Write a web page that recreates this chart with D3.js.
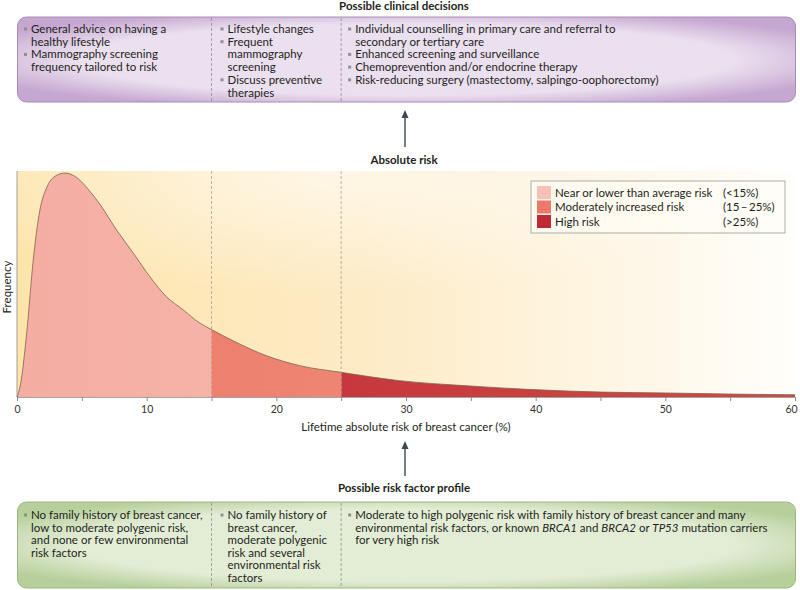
<!DOCTYPE html>
<html>
<head>
<meta charset="utf-8">
<style>
  * { margin:0; padding:0 }
  body { background:#fff; overflow:hidden; }
  svg text { font-family: Lato, "Noto Sans", sans-serif; fill:#231f20; }
</style>
<script src="https://cdn.jsdelivr.net/npm/d3@7"></script>
</head>
<body>
<script>
// curve: lifetime risk (%) vs relative frequency (peak = 100)
var riskPct   = [0, 0.25, 0.75, 1.25, 1.75, 2.3, 2.8, 3.7, 4.6, 5.6, 6.4, 7.7, 9, 10.25, 11.5, 12.8, 14.1, 15, 16.7, 19.25, 21.8, 25, 29.5, 34.7, 39.8, 45, 50, 55, 60];
var frequency = [0, 5, 28.7, 61, 83, 93.6, 98, 100, 98, 92, 86, 74.4, 64, 53.7, 44.9, 39, 33, 30.1, 25, 18.4, 14, 11, 7.3, 5, 3.3, 2.2, 1.8, 1.3, 1.0];

var bandNames  = ["Near or lower than average risk", "Moderately increased risk", "High risk"];
var bandRanges = ["(<15%)", "(15\u2009\u2013\u200925%)", "(>25%)"];
var bandStart  = [0, 15, 25];
var bandEnd    = [15, 25, 60];

var xTicks = [0, 5, 10, 15, 20, 25, 30, 35, 40, 45, 50, 55, 60];
var xLabels = [0, 10, 20, 30, 40, 50, 60];

var clinicalDecisions = [
  [["General advice on having a", "healthy lifestyle"], ["Mammography screening", "frequency tailored to risk"]],
  [["Lifestyle changes"], ["Frequent", "mammography", "screening"], ["Discuss preventive", "therapies"]],
  [["Individual counselling in primary care and referral to", "secondary or tertiary care"],
   ["Enhanced screening and surveillance"],
   ["Chemoprevention and/or endocrine therapy"],
   ["Risk-reducing surgery (mastectomy, salpingo-oophorectomy)"]]
];
var riskProfiles = [
  [["No family history of breast cancer,", "low to moderate polygenic risk,", "and none or few environmental", "risk factors"]],
  [["No family history of", "breast cancer,", "moderate polygenic", "risk and several", "environmental risk", "factors"]],
  [["Moderate to high polygenic risk with family history of breast cancer and many",
    "environmental risk factors, or known *BRCA1* and *BRCA2* or *TP53* mutation carriers",
    "for very high risk"]]
];

var width = 800, height = 590;
var plotTop = 171, plotBottom = 397;

var svg = d3.select("body").append("svg")
    .attr("width", width)
    .attr("height", height);

var x = d3.scaleLinear().domain([0, 60]).range([17, 795]);
var y = d3.scaleLinear().domain([0, 100]).range([plotBottom, 173]);

var defs = svg.append("defs");

function radial(id, inner, outer) {
  var g = defs.append("radialGradient").attr("id", id)
      .attr("cx", "50%").attr("cy", "50%").attr("r", "60%");
  g.append("stop").attr("offset", "0%").attr("stop-color", inner);
  g.append("stop").attr("offset", "70%").attr("stop-color", inner);
  g.append("stop").attr("offset", "100%").attr("stop-color", outer);
}
radial("purpleGrad", "#ebe0ef", "#c6a7d1");
radial("greenGrad", "#e3edd6", "#b7cf9b");

var bg = defs.append("linearGradient").attr("id", "bgGrad")
    .attr("x1", "0%").attr("x2", "100%").attr("y1", "0%").attr("y2", "0%");
bg.append("stop").attr("offset", "0%").attr("stop-color", "#fde4aa");
bg.append("stop").attr("offset", "45%").attr("stop-color", "#fdebc6");
bg.append("stop").attr("offset", "100%").attr("stop-color", "#fffefb");

var glow = defs.append("radialGradient").attr("id", "glow")
    .attr("cx", "40%").attr("cy", "0%").attr("r", "55%");
glow.append("stop").attr("offset", "0%").attr("stop-color", "#fff").attr("stop-opacity", 0.6);
glow.append("stop").attr("offset", "100%").attr("stop-color", "#fff").attr("stop-opacity", 0);

var bandColors = [["#f5ada2", "#f8c3ba"], ["#ec7a67", "#f09382"], ["#bf2b36", "#cf4a45"]];
bandColors.forEach(function(c, i) {
  var g = defs.append("linearGradient").attr("id", "band" + i)
      .attr("x1", "0%").attr("x2", "100%").attr("y1", "0%").attr("y2", "0%");
  g.append("stop").attr("offset", "0%").attr("stop-color", c[0]);
  g.append("stop").attr("offset", "100%").attr("stop-color", c[1]);
  defs.append("clipPath").attr("id", "clip" + i)
    .append("rect")
      .attr("x", x(bandStart[i])).attr("y", plotTop)
      .attr("width", x(bandEnd[i]) - x(bandStart[i]))
      .attr("height", plotBottom - plotTop);
});

// chart background
svg.append("rect").attr("x", x(0)).attr("y", plotTop)
    .attr("width", x(60) - x(0)).attr("height", plotBottom - plotTop)
    .attr("fill", "url(#bgGrad)");
svg.append("rect").attr("x", x(0)).attr("y", plotTop)
    .attr("width", x(60) - x(0)).attr("height", plotBottom - plotTop)
    .attr("fill", "url(#glow)");

var pts = riskPct.map(function(d, i) { return [d, frequency[i]]; });

var area = d3.area()
    .x(function(d) { return x(d[0]); })
    .y0(y(0))
    .y1(function(d) { return y(d[1]); })
    .curve(d3.curveMonotoneX);

var line = d3.line()
    .x(function(d) { return x(d[0]); })
    .y(function(d) { return y(d[1]); })
    .curve(d3.curveMonotoneX);

bandNames.forEach(function(n, i) {
  svg.append("path").datum(pts)
      .attr("d", area)
      .attr("fill", "url(#band" + i + ")")
      .attr("clip-path", "url(#clip" + i + ")");
});

svg.append("path").datum(pts)
    .attr("d", line)
    .attr("fill", "none")
    .attr("stroke", "#7d6250")
    .attr("stroke-width", 0.8);

// dashed thresholds
[15, 25].forEach(function(t) {
  svg.append("line")
      .attr("x1", x(t)).attr("x2", x(t))
      .attr("y1", plotTop).attr("y2", plotBottom)
      .attr("stroke", "#b59f94").attr("stroke-width", 0.8)
      .attr("stroke-dasharray", "3,2");
});

// axes
svg.append("line").attr("x1", x(0)).attr("x2", x(0))
    .attr("y1", plotTop).attr("y2", plotBottom)
    .attr("stroke", "#8c8c8c").attr("stroke-width", 0.8);

var xAxis = svg.append("g")
    .attr("transform", "translate(0," + plotBottom + ")")
    .call(d3.axisBottom(x).tickValues(xTicks).tickSize(4)
      .tickFormat(function(d) { return xLabels.indexOf(d) >= 0 ? d : ""; }));
xAxis.select(".domain").attr("stroke", "#8c8c8c").attr("stroke-width", 0.8);
xAxis.selectAll(".tick line").attr("stroke", "#8c8c8c");
xAxis.selectAll(".tick text")
    .attr("y", 9)
    .attr("dx", function(d) { return d === 60 ? -4 : 0; })
    .style("font-family", "Lato, sans-serif")
    .style("font-size", "10.5px")
    .style("fill", "#333");

svg.append("text")
    .attr("x", x(30)).attr("y", 431)
    .attr("text-anchor", "middle")
    .style("font-size", "11.5px")
    .text("Lifetime absolute risk of breast cancer (%)");

svg.append("text")
    .attr("transform", "translate(11,287) rotate(-90)")
    .attr("text-anchor", "middle")
    .style("font-size", "11.5px")
    .text("Frequency");

// legend
var legend = svg.append("g").attr("transform", "translate(531,181)");
legend.append("rect").attr("width", 254).attr("height", 52)
    .attr("fill", "#fffdf7").attr("fill-opacity", 0.6)
    .attr("stroke", "#9a9a9a").attr("stroke-width", 0.8);
var swatch = ["#f8c0b7", "#ed7a68", "#c12838"];
bandNames.forEach(function(n, i) {
  var row = legend.append("g").attr("transform", "translate(6," + (5 + i * 14.5) + ")");
  row.append("rect").attr("width", 14).attr("height", 13).attr("fill", swatch[i]);
  row.append("text").attr("x", 18).attr("y", 10.5).style("font-size", "11.5px").text(n);
  row.append("text").attr("x", 186).attr("y", 10.5).style("font-size", "11.5px").text(bandRanges[i]);
});

// titles and arrows
function arrow(xPos, yTop, yBottom) {
  svg.append("line").attr("x1", xPos).attr("x2", xPos)
      .attr("y1", yTop + 5).attr("y2", yBottom)
      .attr("stroke", "#3d4852").attr("stroke-width", 1.4);
  svg.append("path")
      .attr("d", "M" + xPos + "," + yTop + "L" + (xPos - 3.5) + "," + (yTop + 8) + "L" + (xPos + 3.5) + "," + (yTop + 8) + "Z")
      .attr("fill", "#3d4852");
}
arrow(405, 110, 147);
arrow(405, 441, 476);

function title(txt, yPos) {
  svg.append("text").attr("x", 404).attr("y", yPos)
      .attr("text-anchor", "middle")
      .style("font-size", "11.5px").style("font-weight", "bold")
      .text(txt);
}
title("Possible clinical decisions", 10);
title("Absolute risk", 164);
title("Possible risk factor profile", 492);

// boxes
function box(y0, h, fill, stroke, cols, firstBase, step) {
  svg.append("rect").attr("x", 17.5).attr("y", y0)
      .attr("width", 778).attr("height", h)
      .attr("rx", 9)
      .attr("fill", fill).attr("stroke", stroke).attr("stroke-width", 1);
  [15, 25].forEach(function(t) {
    svg.append("line").attr("x1", x(t)).attr("x2", x(t))
        .attr("y1", y0 + 1).attr("y2", y0 + h - 1)
        .attr("stroke", "#8a7f8e").attr("stroke-width", 0.7)
        .attr("stroke-dasharray", "3,2");
  });
  cols.forEach(function(items, c) {
    var cx = x(bandStart[c]) + (c === 1 ? 2 : 0);
    var lineNo = 0;
    items.forEach(function(item) {
      svg.append("rect")
          .attr("x", cx + 7).attr("y", firstBase + lineNo * step - 5.5)
          .attr("width", 3).attr("height", 3)
          .attr("fill", "#8f8f8f");
      item.forEach(function(l) {
        var t = svg.append("text")
            .attr("x", cx + 14).attr("y", firstBase + lineNo * step)
            .style("font-size", "11.5px");
        l.split("*").forEach(function(part, k) {
          t.append("tspan").style("font-style", k % 2 ? "italic" : "normal").text(part);
        });
        lineNo++;
      });
    });
  });
}
box(17, 85, "url(#purpleGrad)", "#a98db6", clinicalDecisions, 33, 12.7);
box(502, 86, "url(#greenGrad)", "#9cb784", riskProfiles, 519, 12.6);
</script>
</body>
</html>
